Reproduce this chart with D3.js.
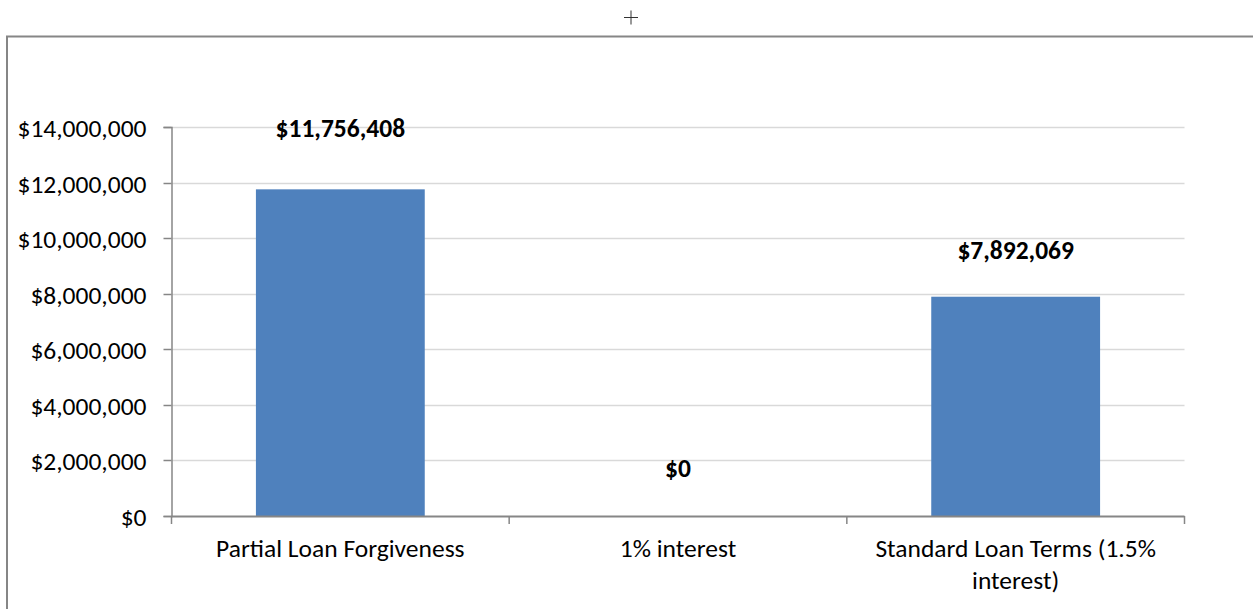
<!DOCTYPE html>
<html><head><meta charset="utf-8">
<script src="https://cdn.jsdelivr.net/npm/d3@7"></script>
<style>body{margin:0;background:#fff;}svg{display:block;font-family:Carlito,Calibri,Lato,"Open Sans",sans-serif;}</style>
</head><body>
<svg id="c" width="1253" height="609"></svg>
<script>
const categories = ["Partial Loan Forgiveness", "1% interest", "Standard Loan Terms (1.5% interest)"];
const categoryLines = [["Partial Loan Forgiveness"], ["1% interest"], ["Standard Loan Terms (1.5%", "interest)"]];
const values = [11756408, 0, 7892069];
const yTicks = [0, 2000000, 4000000, 6000000, 8000000, 10000000, 12000000, 14000000];

const FONT = "Carlito,Calibri,Lato,sans-serif";
const FS = 25.5;
const svg = d3.select("#c");
const m = {left: 171.5, right: 1184.5, top: 127, bottom: 516};

// outer frame
svg.append("rect").attr("x", 7).attr("y", 36.5).attr("width", 1260).attr("height", 600)
  .attr("fill", "none").attr("stroke", "#868686").attr("stroke-width", 2);
// plus marker
svg.append("path").attr("d", "M624,17.5H638M631,10.5V24.5").attr("stroke", "#333").attr("stroke-width", 1);

const x = d3.scaleBand().domain(categories).range([m.left, m.right]).paddingInner(0.5).paddingOuter(0.25);
const xEdge = d3.scaleBand().domain(categories).range([m.left, m.right]);
const y = d3.scaleLinear().domain([0, 14000000]).range([m.bottom, m.top]);

// gridlines
svg.append("g").selectAll("line").data(yTicks.filter(d => d > 0)).join("line")
  .attr("x1", m.left).attr("x2", m.right).attr("y1", d => Math.round(y(d)) + 0.5).attr("y2", d => Math.round(y(d)) + 0.5)
  .attr("stroke", "#d9d9d9").attr("stroke-width", 1.5);

// bars
svg.append("g").selectAll("rect").data(values).join("rect")
  .attr("x", (d, i) => x(categories[i])).attr("width", x.bandwidth())
  .attr("y", d => y(d)).attr("height", d => y(0) - y(d)).attr("fill", "#4f81bd");

// y axis
const yAxis = d3.axisLeft(y).tickValues(yTicks).tickSize(8).tickPadding(17)
  .tickFormat(d => "$" + d3.format(",")(d));
const gy = svg.append("g").attr("transform", `translate(${m.left},0)`).call(yAxis);
gy.attr("font-family", FONT).attr("font-size", FS);
gy.select(".domain").attr("stroke", "#868686").attr("stroke-width", 1.5);
gy.selectAll(".tick line").attr("stroke", "#868686").attr("stroke-width", 1.5);
gy.selectAll(".tick text").attr("fill", "#000").attr("dy", "0.36em");
gy.selectAll(".tick").attr("transform", d => `translate(0,${Math.round(y(d)) + 0.5})`);

// x axis
svg.append("line").attr("x1", m.left).attr("x2", m.right).attr("y1", m.bottom + 0.5).attr("y2", m.bottom + 0.5)
  .attr("stroke", "#868686").attr("stroke-width", 2);
const edges = categories.map(c => xEdge(c)).concat([m.right]);
svg.append("g").selectAll("line").data(edges).join("line")
  .attr("x1", d => d).attr("x2", d => d).attr("y1", m.bottom).attr("y2", m.bottom + 8)
  .attr("stroke", "#868686").attr("stroke-width", 1.5);

// x labels
const xl = svg.append("g").selectAll("text").data(categories).join("text")
  .attr("x", d => x(d) + x.bandwidth() / 2).attr("y", 557)
  .attr("text-anchor", "middle").attr("font-size", FS).attr("fill", "#000");
xl.each(function(d, i) {
  d3.select(this).selectAll("tspan").data(categoryLines[i]).join("tspan")
    .attr("x", x(d) + x.bandwidth() / 2).attr("dy", (t, j) => j === 0 ? 0 : 32).text(t => t);
});

// value labels
const labelDy = [-52, -39, -38];
svg.append("g").selectAll("text").data(values).join("text")
  .attr("x", (d, i) => x(categories[i]) + x.bandwidth() / 2)
  .attr("y", (d, i) => y(d) + labelDy[i])
  .attr("text-anchor", "middle").attr("font-size", FS).attr("font-weight", "bold").attr("fill", "#000")
  .text(d => "$" + d3.format(",")(d));
</script>
</body></html>
